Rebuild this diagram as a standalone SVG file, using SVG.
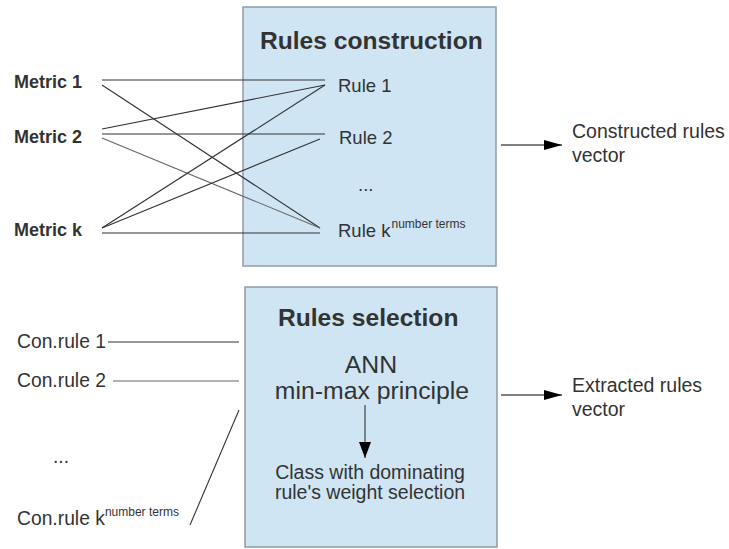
<svg xmlns="http://www.w3.org/2000/svg" width="729" height="549" viewBox="0 0 729 549">
  <style>
    .box { fill: #cfe5f3; stroke: #8d9ca6; stroke-width: 1.5; }
    .title { font-family: "Liberation Sans", Arial, sans-serif; font-weight: bold; font-size: 24.6px; fill: #333; }
    .metric { font-family: "Liberation Sans", Arial, sans-serif; font-weight: bold; font-size: 18px; fill: #333; }
    .lbl { font-family: "Liberation Sans", Arial, sans-serif; font-size: 18.5px; fill: #333; }
    .con { font-family: "Liberation Sans", Arial, sans-serif; font-size: 19.3px; fill: #333; }
    .out { font-family: "Liberation Sans", Arial, sans-serif; font-size: 19.5px; fill: #333; }
    .big { font-family: "Liberation Sans", Arial, sans-serif; font-size: 24.8px; fill: #333; }
    .mid { font-family: "Liberation Sans", Arial, sans-serif; font-size: 19.5px; fill: #333; }
    .sup { font-size: 12px; }
    .ln { stroke: #333; stroke-width: 1.1; fill: none; }
    .lg { stroke: #666; stroke-width: 1.1; fill: none; }
    .arr { stroke: #000; stroke-width: 1; fill: none; marker-end: url(#head); }
  </style>
  <defs>
    <marker id="head" viewBox="0 0 18 10" refX="18" refY="5" markerWidth="18" markerHeight="10" markerUnits="userSpaceOnUse" orient="auto">
      <path d="M0,0 L18,5 L0,10 Z" fill="#000"/>
    </marker>
    <marker id="headDown" viewBox="0 0 12 16" refX="6" refY="16" markerWidth="12" markerHeight="16" markerUnits="userSpaceOnUse" orient="0">
      <path d="M0,0 L12,0 L6,16 Z" fill="#000"/>
    </marker>
  </defs>

  <!-- Rules construction block -->
  <g id="rules-construction">
    <rect class="box" x="243" y="7" width="253" height="259"/>
    <text class="title" x="260" y="49">Rules construction</text>
    <text class="lbl" x="338" y="92">Rule 1</text>
    <text class="lbl" x="339" y="144">Rule 2</text>
    <text class="lbl" x="358" y="191">...</text>
    <text class="lbl" x="338" y="237">Rule k<tspan class="sup" dx="1" dy="-9">number terms</tspan></text>
  </g>

  <!-- Inputs: metrics -->
  <g id="metric-1"><text class="metric" x="14" y="88">Metric 1</text></g>
  <g id="metric-2"><text class="metric" x="14" y="143">Metric 2</text></g>
  <g id="metric-k"><text class="metric" x="14" y="236">Metric k</text></g>

  <!-- Output of construction -->
  <g id="constructed-vector">
    <text class="out" x="572" y="138">Constructed rules</text>
    <text class="out" x="572" y="162">vector</text>
  </g>

  <!-- Rules selection block -->
  <g id="rules-selection">
    <rect class="box" x="245" y="287" width="252" height="260"/>
    <text class="title" x="278" y="326">Rules selection</text>
    <text class="big" x="371" y="373" text-anchor="middle">ANN</text>
    <text class="big" x="372" y="399" text-anchor="middle">min-max principle</text>
    <text class="mid" x="370" y="479" text-anchor="middle">Class with dominating</text>
    <text class="mid" x="370" y="499" text-anchor="middle">rule's weight selection</text>
  </g>

  <!-- Inputs: constructed rules -->
  <g id="con-rule-1"><text class="con" x="17" y="348">Con.rule 1</text></g>
  <g id="con-rule-2"><text class="con" x="17" y="387">Con.rule 2</text></g>
  <g id="con-rule-dots"><text class="con" x="53" y="463">...</text></g>
  <g id="con-rule-k"><text class="con" x="17" y="525">Con.rule k<tspan class="sup" dy="-9">number terms</tspan></text></g>

  <!-- Output of selection -->
  <g id="extracted-vector">
    <text class="out" x="572" y="392">Extracted rules</text>
    <text class="out" x="572" y="416">vector</text>
  </g>

  <!-- Connectors -->
  <g id="connectors">
    <line class="ln" x1="102" y1="80" x2="325" y2="80"/>
    <line class="ln" x1="102" y1="85" x2="320" y2="228"/>
    <line class="ln" x1="102" y1="129" x2="325" y2="85"/>
    <line class="ln" x1="102" y1="134" x2="325" y2="134"/>
    <line class="lg" x1="102" y1="138" x2="320" y2="228"/>
    <line class="ln" x1="102" y1="228" x2="325" y2="85"/>
    <line class="ln" x1="102" y1="228" x2="320" y2="139"/>
    <line class="ln" x1="102" y1="233" x2="320" y2="233"/>

    <line class="ln" x1="108" y1="342" x2="239" y2="342"/>
    <line class="lg" x1="113" y1="381" x2="239" y2="381"/>
    <line class="ln" x1="190" y1="525" x2="239" y2="410"/>

    <line class="arr" x1="501" y1="145" x2="562" y2="145"/>
    <line class="arr" x1="501" y1="395" x2="562" y2="395"/>
    <line class="ln" x1="365" y1="405" x2="365" y2="458" marker-end="url(#headDown)"/>
  </g>
</svg>
